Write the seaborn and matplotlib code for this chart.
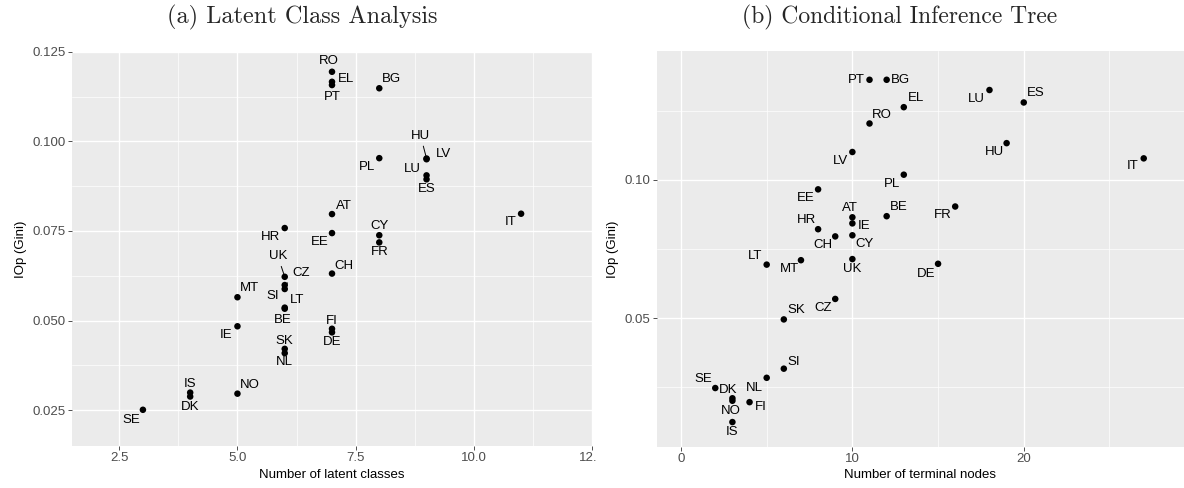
import numpy as np
import pandas as pd
import matplotlib
matplotlib.use("Agg")
import matplotlib.pyplot as plt
import seaborn as sns
from matplotlib.ticker import FixedLocator
from matplotlib.transforms import Bbox, TransformedBbox

# ---------------- data ----------------
countries_a = ["RO", "EL", "PT", "BG", "HU", "LV", "PL", "LU", "ES", "AT", "IT",
               "HR", "EE", "CY", "FR", "UK", "CH", "CZ", "SI", "MT", "LT", "BE",
               "IE", "FI", "DE", "SK", "NL", "NO", "IS", "DK", "SE"]
classes_a = [7, 7, 7, 8, 9, 9, 8, 9, 9, 7, 11,
             6, 7, 8, 8, 6, 7, 6, 6, 5, 6, 6,
             5, 7, 7, 6, 6, 5, 4, 4, 3]
iop_a = [0.1194, 0.1166, 0.1157, 0.1148, 0.0952, 0.0950, 0.0953, 0.0905, 0.0894, 0.0797, 0.0798,
         0.0758, 0.0744, 0.0738, 0.0718, 0.0622, 0.0631, 0.0599, 0.0588, 0.0565, 0.0536, 0.0533,
         0.0484, 0.0477, 0.0467, 0.0421, 0.0409, 0.0296, 0.0299, 0.0288, 0.0251]

countries_b = ["PT", "BG", "EL", "LU", "ES", "RO", "HU", "LV", "IT", "PL", "EE",
               "FR", "BE", "AT", "IE", "HR", "CH", "CY", "LT", "MT", "UK", "DE",
               "CZ", "SK", "SI", "NL", "SE", "DK", "NO", "FI", "IS"]
nodes_b = [11, 12, 13, 18, 20, 11, 19, 10, 27, 13, 8,
           16, 12, 10, 10, 8, 9, 10, 5, 7, 10, 15,
           9, 6, 6, 5, 2, 3, 3, 4, 3]
iop_b = [0.1362, 0.1362, 0.1263, 0.1325, 0.1280, 0.1204, 0.1133, 0.1101, 0.1078, 0.1019, 0.0966,
         0.0904, 0.0869, 0.0865, 0.0843, 0.0822, 0.0796, 0.0800, 0.0694, 0.0710, 0.0714, 0.0697,
         0.0570, 0.0496, 0.0318, 0.0285, 0.0248, 0.0211, 0.0202, 0.0197, 0.0125]

titles = ["(a) Latent Class Analysis", "(b) Conditional Inference Tree"]
xlabels = ["Number of latent classes", "Number of terminal nodes"]
ylabel = "IOp (Gini)"

xticks_a = [2.5, 5.0, 7.5, 10.0, 12.5]
xtick_labels_a = ["2.5", "5.0", "7.5", "10.0", "12.5"]
yticks_a = [0.025, 0.050, 0.075, 0.100, 0.125]
ytick_labels_a = ["0.025", "0.050", "0.075", "0.100", "0.125"]
xticks_b = [0, 10, 20]
xtick_labels_b = ["0", "10", "20"]
yticks_b = [0.05, 0.10]
ytick_labels_b = ["0.05", "0.10"]

# ---------------- label placement (pixel offsets, image coords: +x right, +y down) ----------------
offs_a = {"RO": (-3, -11), "EL": (14, -3), "PT": (0, 12), "BG": (12, -9),
          "HU": (-6, -23), "LV": (17, -5), "PL": (-12, 9), "LU": (-14, -6),
          "ES": (0, 10), "AT": (12, -8), "IT": (-10, 8), "HR": (-14, 9),
          "EE": (-12, 9), "CY": (0, -9), "FR": (0, 10), "UK": (-7, -21),
          "CH": (12, -8), "CZ": (16, -12), "SI": (-12, 7), "MT": (12, -9),
          "LT": (12, -8), "BE": (-2, 11), "IE": (-11, 9), "FI": (0, -8),
          "DE": (0, 10), "SK": (0, -8), "NL": (0, 9), "NO": (12, -9),
          "IS": (0, -9), "DK": (0, 10), "SE": (-12, 10)}
segs_a = {"HU", "UK", "CZ"}
offs_b = {"PT": (-13, 0), "BG": (14, 0), "EL": (12, -9), "LU": (-13, 9),
          "ES": (12, -9), "RO": (12, -8), "HU": (-12, 9), "LV": (-12, 9),
          "IT": (-11, 8), "PL": (-12, 9), "EE": (-12, 9), "FR": (-12, 8),
          "BE": (12, -9), "AT": (-2, -9), "IE": (12, 3), "HR": (-12, -9),
          "CH": (-12, 9), "CY": (12, 9), "LT": (-12, -9), "MT": (-12, 9),
          "UK": (0, 10), "DE": (-12, 10), "CZ": (-12, 9), "SK": (12, -9),
          "SI": (10, -7), "NL": (-12, 10), "SE": (-12, -9), "DK": (-4, -8),
          "NO": (-2, 10), "FI": (11, 5), "IS": (0, 10)}

# ---------------- style ----------------
sns.set_theme(style="darkgrid")
plt.rcParams.update({
    "font.family": ["Liberation Sans", "DejaVu Sans"],
    "axes.facecolor": "#EBEBEB",
    "axes.edgecolor": "none",
    "grid.color": "white",
    "xtick.color": "#333333",
    "ytick.color": "#333333",
    "xtick.labelcolor": "#4D4D4D",
    "ytick.labelcolor": "#4D4D4D",
})

W, H = 1184, 488
fig = plt.figure(figsize=(W / 100, H / 100), dpi=100)
ax_a = fig.add_axes([72 / W, (H - 446) / H, (592 - 72) / W, (446 - 51.7) / H])
ax_b = fig.add_axes([657 / W, (H - 446.7) / H, (W - 657) / W, (446.7 - 51) / H])

df_a = pd.DataFrame({"country": countries_a, "x": classes_a, "y": iop_a})
df_b = pd.DataFrame({"country": countries_b, "x": nodes_b, "y": iop_b})


def draw(ax, df, offs, segs, xlim, ylim, xt, xtl, xminor, yt, ytl, yminor, xlabel):
    sns.scatterplot(data=df, x="x", y="y", ax=ax, color="black", s=22,
                    edgecolor="none", linewidth=0, zorder=3, legend=False)
    ax.set_xlim(*xlim)
    ax.set_ylim(*ylim)
    ax.xaxis.set_major_locator(FixedLocator(xt))
    ax.set_xticklabels(xtl)
    ax.yaxis.set_major_locator(FixedLocator(yt))
    ax.set_yticklabels(ytl)
    ax.xaxis.set_minor_locator(FixedLocator(xminor))
    ax.yaxis.set_minor_locator(FixedLocator(yminor))
    ax.grid(which="major", color="white", linewidth=1.0)
    ax.grid(which="minor", color="white", linewidth=0.5)
    ax.tick_params(which="major", length=2.6, width=0.6, pad=2, labelsize=9.5,
                   bottom=True, left=True)
    ax.tick_params(which="minor", length=0, bottom=False, left=False)
    ax.set_xlabel(xlabel, fontsize=9.5, color="black", labelpad=3)
    ax.set_ylabel(ylabel, fontsize=9.5, color="black", labelpad=4)
    for c, x, y in zip(df["country"], df["x"], df["y"]):
        dx, dy = offs[c]
        kw = {}
        if c in segs:
            kw["arrowprops"] = dict(arrowstyle="-", color="black", lw=0.7,
                                    shrinkA=1, shrinkB=2)
        ax.annotate(c, (x, y), xytext=(dx, -dy), textcoords="offset pixels",
                    ha="center", va="center", fontsize=9.5, color="black",
                    zorder=4, **kw)


draw(ax_a, df_a, offs_a, segs_a, (1.5, 12.5), (0.015, 0.125),
     xticks_a, xtick_labels_a, [3.75, 6.25, 8.75, 11.25],
     yticks_a, ytick_labels_a, [0.0375, 0.0625, 0.0875, 0.1125], xlabels[0])
draw(ax_b, df_b, offs_b, set(), (-1.4, 29.35), (0.0036, 0.1466),
     xticks_b, xtick_labels_b, [5, 15, 25],
     yticks_b, ytick_labels_b, [0.025, 0.075, 0.125], xlabels[1])

# the reference crops the last tick label of panel (a)
clip = TransformedBbox(Bbox([[0, 0], [596 / W, 1]]), fig.transFigure)
for lab in ax_a.get_xticklabels():
    lab.set_clip_on(True)
    lab.set_clip_box(clip)

fig.text(302 / W, 1 - 17 / H, titles[0], family="cmr10", fontsize=17.5,
         ha="center", va="center")
fig.text(900 / W, 1 - 17 / H, titles[1], family="cmr10", fontsize=17,
         ha="center", va="center")

fig.savefig("out.png", dpi=100)
